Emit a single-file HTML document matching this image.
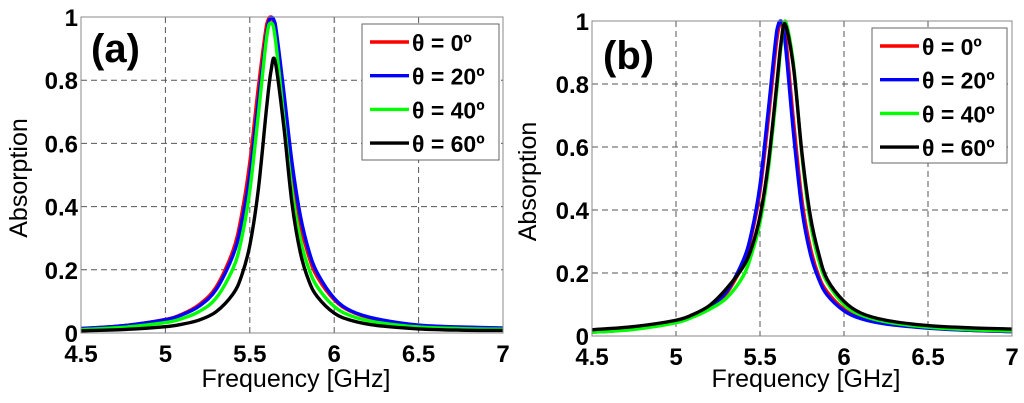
<!DOCTYPE html>
<html><head><meta charset="utf-8"><style>
html,body{margin:0;padding:0;background:#fff;width:1024px;height:403px;overflow:hidden}
svg{display:block;font-family:"Liberation Sans",Arial,sans-serif}
</style></head><body>
<svg id="chart" width="1024" height="403" viewBox="0 0 1024 403" xmlns="http://www.w3.org/2000/svg"></svg>
<script>
const freqs=[4.5,4.75,5,5.1,5.2,5.3,5.4,5.45,5.5,5.55,5.6,5.625,5.65,5.7,5.75,5.8,5.85,5.9,6,6.1,6.25,6.5,6.75,7];
const xTicks=[4.5,5,5.5,6,6.5,7];
const xTickLabels=["4.5","5","5.5","6","6.5","7"];
const yTicks=[0,0.2,0.4,0.6,0.8,1];
const yTickLabels=["0","0.2","0.4","0.6","0.8","1"];
const seriesNames=["θ = 0º","θ = 20º","θ = 40º","θ = 60º"];
const seriesColors=["#ff0000","#0000ff","#00ff00","#000000"];
const redA=[0.014,0.023,0.043,0.06,0.09,0.145,0.26,0.37,0.54,0.775,0.977,1.0,0.95,0.725,0.5,0.343,0.242,0.177,0.105,0.068,0.043,0.024,0.018,0.015];
const blueA=[0.014,0.023,0.042,0.058,0.085,0.137,0.245,0.345,0.5,0.73,0.95,0.998,0.98,0.77,0.54,0.37,0.26,0.19,0.11,0.07,0.045,0.025,0.019,0.016];
const greenA=[0.011,0.018,0.033,0.046,0.068,0.11,0.203,0.295,0.45,0.688,0.936,0.98,0.936,0.688,0.45,0.295,0.203,0.146,0.084,0.054,0.034,0.019,0.014,0.012];
const blackA=[0.007,0.011,0.02,0.028,0.041,0.067,0.123,0.179,0.277,0.452,0.716,0.827,0.86,0.66,0.41,0.253,0.165,0.115,0.063,0.04,0.024,0.013,0.009,0.008];
const redB=[0.012,0.022,0.045,0.065,0.093,0.135,0.23,0.32,0.46,0.69,0.94,0.99,0.96,0.68,0.43,0.28,0.19,0.14,0.085,0.058,0.04,0.026,0.018,0.014];
const blueB=[0.012,0.022,0.045,0.065,0.095,0.14,0.24,0.33,0.48,0.72,0.97,1.0,0.93,0.64,0.40,0.26,0.18,0.13,0.08,0.055,0.038,0.025,0.018,0.014];
const greenB=[0.012,0.021,0.042,0.06,0.085,0.12,0.19,0.26,0.36,0.53,0.78,0.92,1.0,0.86,0.57,0.36,0.24,0.17,0.10,0.067,0.045,0.028,0.02,0.016];
const blackB=[0.02,0.03,0.05,0.068,0.097,0.15,0.22,0.28,0.38,0.55,0.8,0.93,0.99,0.85,0.58,0.38,0.26,0.18,0.11,0.073,0.05,0.033,0.026,0.022];

const NS="http://www.w3.org/2000/svg";
const svg=document.getElementById('chart');
function mk(tag,attrs,parent){const e=document.createElementNS(NS,tag);for(const k in attrs)e.setAttribute(k,attrs[k]);(parent||svg).appendChild(e);return e;}

function panel(cfg){
  const g=mk('g',{});
  
  
  const {x0,x1,y0,y1}=cfg;
  const sx=v=>x0+(v-4.5)/(7-4.5)*(x1-x0);
  const sy=v=>y0-(v-0)/(1-0)*(y0-y1);
  mk('rect',{x:x0,y:y1,width:x1-x0,height:y0-y1,fill:'#fff'},g);
  xTicks.forEach((t,i)=>{if(i>0&&i<xTicks.length-1){const l=mk('line',{x1:sx(t),x2:sx(t),y1:y1,y2:y0,stroke:'#555','stroke-width':1,'stroke-dasharray':'6,4'},g);
    
    }});
  yTicks.forEach((t,i)=>{if(i>0&&i<yTicks.length-1){const l=mk('line',{x1:x0,x2:x1,y1:sy(t),y2:sy(t),stroke:'#555','stroke-width':1,'stroke-dasharray':'6,4'},g);
    
    }});
  cfg.series.forEach((arr,si)=>{
    const pts=freqs.map((f,i)=>[sx(f),sy(arr[i])]);
    let d='M'+pts[0][0]+','+pts[0][1];
    for(let i=0;i<pts.length-1;i++){
      const p0=pts[Math.max(0,i-1)],p1=pts[i],p2=pts[i+1],p3=pts[Math.min(pts.length-1,i+2)];
      const c1x=p1[0]+(p2[0]-p0[0])/6,c1y=p1[1]+(p2[1]-p0[1])/6;
      const c2x=p2[0]-(p3[0]-p1[0])/6,c2y=p2[1]-(p3[1]-p1[1])/6;
      d+=' C'+c1x+','+Math.max(y1,c1y)+' '+c2x+','+Math.max(y1,c2y)+' '+p2[0]+','+p2[1];
    }
    const p=mk('path',{d:d,fill:'none',stroke:seriesColors[si],'stroke-width':3.4,'stroke-linejoin':'round'},g);
    
    
  });
  mk('rect',{x:x0,y:y1,width:x1-x0,height:y0-y1,fill:'none',stroke:'#888','stroke-width':1},g);
  xTicks.forEach((t,i)=>{const tx=mk('text',{x:sx(t),y:y0+29,'text-anchor':'middle','font-size':24,'font-weight':'bold'},g);tx.textContent=xTickLabels[i];
    
    });
  yTicks.forEach((t,i)=>{const tx=mk('text',{x:x0-3,y:sy(t)+9,'text-anchor':'end','font-size':24,'font-weight':'bold'},g);tx.textContent=yTickLabels[i];
    
    });
  const xl=mk('text',{x:(x0+x1)/2+4,y:387,'text-anchor':'middle','font-size':25},g);xl.textContent='Frequency [GHz]';
  
  
  const yl=mk('text',{x:0,y:0,'text-anchor':'middle','font-size':25,transform:'translate('+(cfg.ylx)+','+((y0+y1)/2+3)+') rotate(-90)'},g);yl.textContent='Absorption';
  
  
  const lab=mk('text',{x:cfg.labx,y:cfg.laby,'font-size':40,'font-weight':'bold'},g);lab.textContent=cfg.label;
  
  
  const L=cfg.leg;
  const lg=mk('g',{},g);
  
  
  mk('rect',{x:L.x,y:L.y,width:L.w,height:L.h,fill:'#fff',stroke:'#666','stroke-width':1},lg);
  seriesNames.forEach((n,i)=>{
    const ry=L.y+18+i*33.7;
    const e=mk('g',{},lg);
    
    
    mk('line',{x1:L.x+8,x2:L.x+47,y1:ry,y2:ry,stroke:seriesColors[i],'stroke-width':3.4},e);
    const t=mk('text',{x:L.x+50,y:ry+9,'font-size':23,'font-weight':'bold'},e);t.textContent=n;
  });
}
panel({name:'panel-a',x0:81,x1:503,y0:333,y1:17,ylx:27,labx:91,laby:62,label:'(a)',leg:{x:362,y:24,w:137,h:136},
  series:[redA,blueA,greenA,blackA]});
panel({name:'panel-b',x0:592,x1:1012,y0:336,y1:21,ylx:536,labx:603,laby:69,label:'(b)',leg:{x:872,y:28,w:135,h:135},
  series:[redB,blueB,greenB,blackB]});
</script>
</body></html>
